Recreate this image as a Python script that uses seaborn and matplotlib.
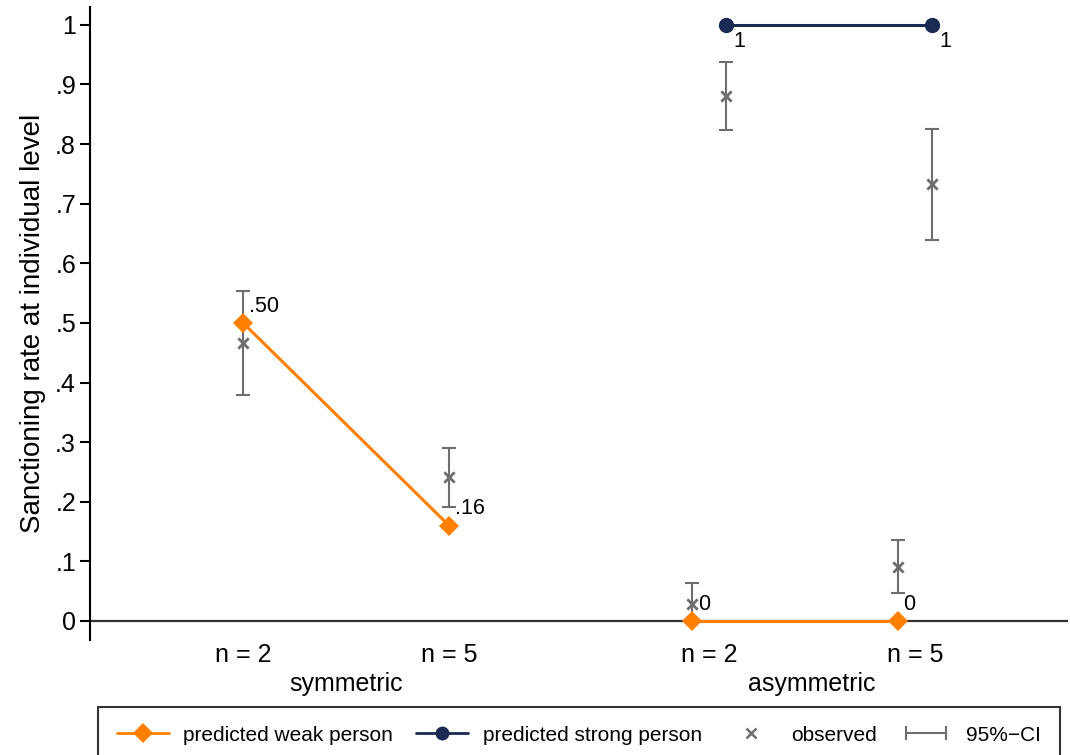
import numpy as np
import pandas as pd
import matplotlib
matplotlib.use("Agg")
import matplotlib.pyplot as plt
import seaborn as sns
from matplotlib.lines import Line2D
from matplotlib.legend_handler import HandlerLine2D

# --- data ---
# x positions: symmetric n=2, n=5 / asymmetric n=2, n=5 (strong person shifted right)
weak_x = [1.0, 2.0, 3.18, 4.18]
weak_pred = [0.50, 0.16, 0.0, 0.0]
weak_design = ["symmetric", "symmetric", "asymmetric", "asymmetric"]
weak_labels = [".50", ".16", "0", "0"]

strong_x = [3.345, 4.345]
strong_pred = [1.0, 1.0]
strong_labels = ["1", "1"]

obs_x = [1.0, 2.0, 3.18, 3.345, 4.18, 4.345]
obs_mean = [0.467, 0.242, 0.028, 0.881, 0.091, 0.733]
obs_lo = [0.379, 0.191, 0.0, 0.824, 0.047, 0.639]
obs_hi = [0.554, 0.290, 0.064, 0.938, 0.136, 0.826]

tick_x = [1.0, 2.0, 3.2625, 4.2625]
tick_labels = ["n = 2", "n = 5", "n = 2", "n = 5"]
group_x = [1.5, 3.2625 + 0.5]
group_labels = ["symmetric", "asymmetric"]

ORANGE = "#FF8000"
NAVY = "#1B2A52"
GRAY = "#6E6E6E"

sns.set_theme(style="white")
plt.rcParams["font.family"] = ["Liberation Sans", "DejaVu Sans"]
plt.rcParams.update({"text.color": "black", "axes.labelcolor": "black",
                     "xtick.color": "black", "ytick.color": "black"})

weak = pd.DataFrame({"x": weak_x, "y": weak_pred, "design": weak_design})
strong = pd.DataFrame({"x": strong_x, "y": strong_pred, "design": "asymmetric"})
obs = pd.DataFrame({"x": obs_x, "y": obs_mean, "lo": obs_lo, "hi": obs_hi})

fig = plt.figure(figsize=(10.7, 7.55), dpi=100)
ax = fig.add_axes([90 / 1070, 115 / 755, 978 / 1070, 633 / 755])

ax.axhline(0, color="#333333", lw=1.6, zorder=1)

# confidence intervals
ax.errorbar(obs["x"], obs["y"], yerr=[obs["y"] - obs["lo"], obs["hi"] - obs["y"]],
            fmt="none", ecolor=GRAY, elinewidth=1.5, capsize=5, capthick=1.5, zorder=2)

sns.lineplot(data=weak, x="x", y="y", units="design", estimator=None, color=ORANGE,
             lw=2.2, marker="D", markersize=10, markeredgewidth=0, ax=ax, zorder=3)
sns.lineplot(data=strong, x="x", y="y", units="design", estimator=None, color=NAVY,
             lw=2.2, marker="o", markersize=11, markeredgewidth=0, ax=ax, zorder=3)
sns.scatterplot(data=obs, x="x", y="y", marker="x", color=GRAY, s=55, linewidth=2,
                ax=ax, zorder=4)

for xx, yy, lab in zip(weak_x, weak_pred, weak_labels):
    ax.annotate(lab, (xx, yy), xytext=(4, 12), textcoords="offset points",
                fontsize=15.5, ha="left", va="center")
for xx, yy, lab in zip(strong_x, strong_pred, strong_labels):
    ax.annotate(lab, (xx, yy), xytext=(5, -12), textcoords="offset points",
                fontsize=15.5, ha="left", va="center")

ax.set_xlim(0.257, 5.005)
ax.set_ylim(-0.032, 1.030)
ax.set_yticks(np.arange(0, 1.01, 0.1))
ax.set_yticklabels(["0", ".1", ".2", ".3", ".4", ".5", ".6", ".7", ".8", ".9", "1"])
ax.set_xticks(tick_x)
ax.set_xticklabels(tick_labels)
ax.tick_params(axis="x", length=0, pad=2, labelsize=18)
ax.tick_params(axis="y", length=7, width=1.5, pad=3, labelsize=18, direction="out", left=True)

for xx, lab in zip(group_x, group_labels):
    ax.annotate(lab, (xx, 0), xycoords=("data", "axes fraction"), xytext=(0, -32),
                textcoords="offset points", ha="center", va="center", fontsize=18)

ax.set_xlabel("")
ax.set_ylabel("Sanctioning rate at individual level", fontsize=20, labelpad=7)

for side in ["top", "right", "bottom"]:
    ax.spines[side].set_visible(False)
ax.spines["left"].set_color("black")
ax.spines["left"].set_linewidth(1.5)

handles = [
    Line2D([], [], color=ORANGE, lw=2, marker="D", markersize=10, markeredgewidth=0),
    Line2D([], [], color=NAVY, lw=2, marker="o", markersize=10, markeredgewidth=0),
    Line2D([], [], ls="none", color=GRAY, marker="x", markersize=7, markeredgewidth=1.8),
    Line2D([], [], color=GRAY, lw=1.5, marker="|", markersize=10, markeredgewidth=1.5),
]
labels = ["predicted weak person", "predicted strong person", "observed", "95%\u2212CI"]
leg = fig.legend(handles, labels, loc="upper left", ncol=4, mode="expand",
                 bbox_to_anchor=(98 / 1070, 0, 962 / 1070, 48 / 755), borderaxespad=0,
                 fontsize=15, frameon=True, fancybox=False, edgecolor="black",
                 handlelength=2.5, handletextpad=0.7, borderpad=0.9,
                 handler_map={handles[3]: HandlerLine2D(numpoints=2)})
leg.get_frame().set_linewidth(1.5)

fig.savefig("out.png", dpi=100)
